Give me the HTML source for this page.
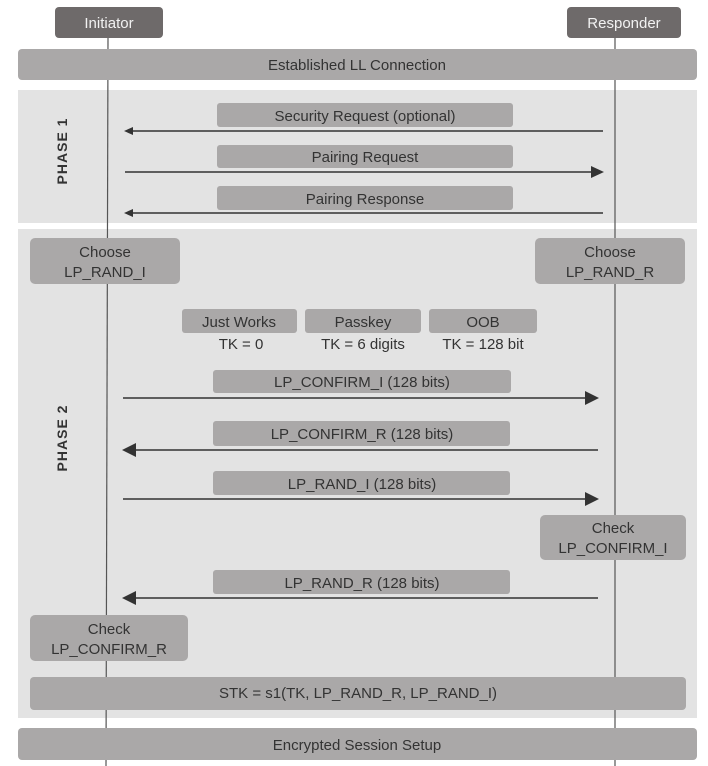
<!DOCTYPE html>
<html><head><meta charset="utf-8"><style>
html,body{margin:0;padding:0;background:#fff;}
svg{display:block;}
text{font-family:"Liberation Sans",sans-serif;font-size:15px;fill:#333;text-anchor:middle;}
.w{fill:#f2f2f2;}
</style></head><body>
<svg width="708" height="766" viewBox="0 0 708 766" xmlns="http://www.w3.org/2000/svg">
<rect x="0" y="0" width="708" height="766" fill="#fff"/>
<!-- phase backgrounds -->
<rect x="18" y="90" width="679" height="133" fill="#e3e3e3"/>
<rect x="18" y="229" width="679" height="489" fill="#e3e3e3"/>
<!-- lifelines -->
<line x1="108" y1="38" x2="106" y2="766" stroke="#555" stroke-width="1.2"/>
<line x1="615" y1="38" x2="615" y2="766" stroke="#555" stroke-width="1.2"/>
<!-- headers -->
<rect x="55" y="7" width="108" height="31" rx="4" fill="#6e6a6a"/>
<text x="109" y="28" class="w">Initiator</text>
<rect x="567" y="7" width="114" height="31" rx="4" fill="#6e6a6a"/>
<text x="624" y="28" class="w">Responder</text>
<!-- bars -->
<rect x="18" y="49" width="679" height="31" rx="4" fill="#aaa8a8"/>
<text x="357" y="70">Established LL Connection</text>
<rect x="18" y="728" width="679" height="32" rx="4" fill="#aaa8a8"/>
<text x="357" y="750">Encrypted Session Setup</text>
<!-- phase labels -->
<text transform="translate(67,151) rotate(-90)" style="font-weight:bold;font-size:14px;letter-spacing:1px">PHASE 1</text>
<text transform="translate(67,438) rotate(-90)" style="font-weight:bold;font-size:14px;letter-spacing:1px">PHASE 2</text>
<!-- phase 1 messages -->
<rect x="217" y="103" width="296" height="24" rx="3" fill="#aaa8a8"/>
<text x="365" y="121">Security Request (optional)</text>
<line x1="603" y1="131" x2="132" y2="131" stroke="#333" stroke-width="1.5"/>
<polygon points="124,131 133,127 133,135" fill="#333"/>
<rect x="217" y="145" width="296" height="23" rx="3" fill="#aaa8a8"/>
<text x="365" y="162">Pairing Request</text>
<line x1="125" y1="172" x2="592" y2="172" stroke="#333" stroke-width="1.5"/>
<polygon points="604,172 591,166 591,178" fill="#333"/>
<rect x="217" y="186" width="296" height="24" rx="3" fill="#aaa8a8"/>
<text x="365" y="204">Pairing Response</text>
<line x1="603" y1="213" x2="132" y2="213" stroke="#333" stroke-width="1.5"/>
<polygon points="124,213 133,209 133,217" fill="#333"/>
<!-- choose -->
<rect x="30" y="238" width="150" height="46" rx="5" fill="#aaa8a8"/>
<text x="105" y="257">Choose</text><text x="105" y="277">LP_RAND_I</text>
<rect x="535" y="238" width="150" height="46" rx="5" fill="#aaa8a8"/>
<text x="610" y="257">Choose</text><text x="610" y="277">LP_RAND_R</text>
<!-- methods -->
<rect x="182" y="309" width="115" height="24" rx="3" fill="#aaa8a8"/>
<text x="239" y="327">Just Works</text><text x="241" y="349">TK = 0</text>
<rect x="305" y="309" width="116" height="24" rx="3" fill="#aaa8a8"/>
<text x="363" y="327">Passkey</text><text x="363" y="349">TK = 6 digits</text>
<rect x="429" y="309" width="108" height="24" rx="3" fill="#aaa8a8"/>
<text x="483" y="327">OOB</text><text x="483" y="349">TK = 128 bit</text>
<!-- phase 2 messages -->
<rect x="213" y="370" width="298" height="23" rx="3" fill="#aaa8a8"/>
<text x="362" y="387">LP_CONFIRM_I (128 bits)</text>
<line x1="123" y1="398" x2="586" y2="398" stroke="#333" stroke-width="1.5"/>
<polygon points="599,398 585,391 585,405" fill="#333"/>
<rect x="213" y="421" width="297" height="25" rx="3" fill="#aaa8a8"/>
<text x="362" y="439">LP_CONFIRM_R (128 bits)</text>
<line x1="598" y1="450" x2="135" y2="450" stroke="#333" stroke-width="1.5"/>
<polygon points="122,450 136,443 136,457" fill="#333"/>
<rect x="213" y="471" width="297" height="24" rx="3" fill="#aaa8a8"/>
<text x="362" y="489">LP_RAND_I (128 bits)</text>
<line x1="123" y1="499" x2="586" y2="499" stroke="#333" stroke-width="1.5"/>
<polygon points="599,499 585,492 585,506" fill="#333"/>
<rect x="540" y="515" width="146" height="45" rx="5" fill="#aaa8a8"/>
<text x="613" y="533">Check</text><text x="613" y="553">LP_CONFIRM_I</text>
<rect x="213" y="570" width="297" height="24" rx="3" fill="#aaa8a8"/>
<text x="362" y="588">LP_RAND_R (128 bits)</text>
<line x1="598" y1="598" x2="135" y2="598" stroke="#333" stroke-width="1.5"/>
<polygon points="122,598 136,591 136,605" fill="#333"/>
<rect x="30" y="615" width="158" height="46" rx="5" fill="#aaa8a8"/>
<text x="109" y="634">Check</text><text x="109" y="654">LP_CONFIRM_R</text>
<rect x="30" y="677" width="656" height="33" rx="4" fill="#aaa8a8"/>
<text x="358" y="698">STK = s1(TK, LP_RAND_R, LP_RAND_I)</text>
</svg>
</body></html>
